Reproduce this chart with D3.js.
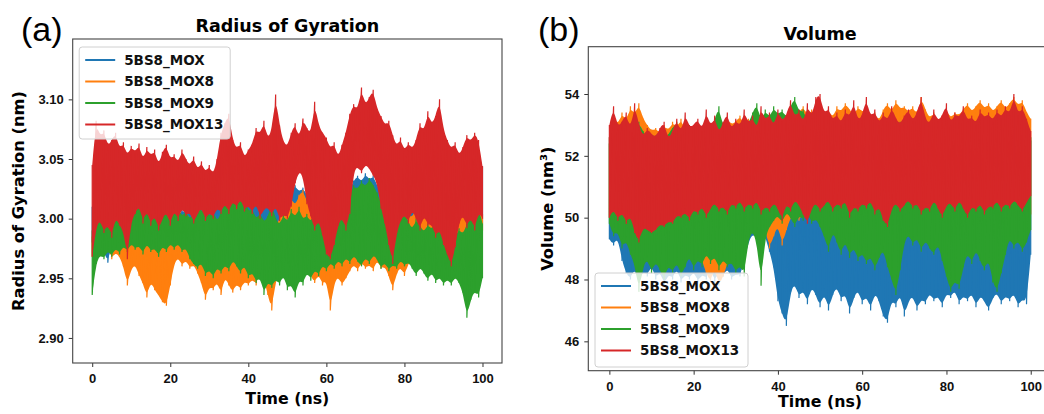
<!DOCTYPE html>
<html>
<head>
<meta charset="utf-8">
<script src="https://cdn.jsdelivr.net/npm/d3@7"></script>
<style>
  body { margin: 0; background: #fff; }
  svg { display: block; font-family: "DejaVu Sans", sans-serif; }
  .tick text { font-weight: bold; font-size: 13px; fill: #111; }
  .tick line, .domain { stroke: #333; }
</style>
</head>
<body>
<div id="chart"></div>
<script>
// series names (legend order = draw order)
const seriesNames = ['5BS8_MOX', '5BS8_MOX8', '5BS8_MOX9', '5BS8_MOX13'];
const seriesColors = ['#1f77b4', '#ff7f0e', '#2ca02c', '#d62728'];

// time axis, one sample per ns
const timeNs = d3.range(0, 101);
const xTicks = [0, 20, 40, 60, 80, 100];

// (a) radius of gyration, nm -- upper / lower envelope per ns
const rgMoxHi = [3.010,3.018,3.012,3.020,3.014,3.008,3.016,3.010,3.004,3.012,3.006,3.010,3.004,3.012,3.006,3.014,3.008,3.002,3.010,3.004,3.000,3.006,3.000,3.008,3.004,3.012,3.006,3.010,3.016,3.012,3.020,3.024,3.018,3.026,3.032,3.022,3.016,3.022,3.014,3.018,3.012,3.020,3.016,3.024,3.018,3.030,3.040,3.046,3.036,3.024,3.018,3.024,3.028,3.022,3.026,3.020,3.014,3.008,3.016,3.010,3.022,3.028,3.034,3.030,3.022,3.016,3.024,3.032,3.036,3.030,3.038,3.032,3.036,3.028,3.020,3.014,3.010,3.016,3.008,3.014,3.010,3.016,3.012,3.020,3.014,3.022,3.018,3.026,3.020,3.028,3.024,3.030,3.026,3.034,3.028,3.036,3.030,3.038,3.032,3.040,3.044];
const rgMoxLo = [2.980,2.978,2.984,2.972,2.963,2.978,2.984,2.980,2.976,2.982,2.978,2.984,2.980,2.986,2.982,2.988,2.984,2.980,2.976,2.970,2.966,2.964,2.972,2.978,2.984,2.980,2.976,2.982,2.978,2.974,2.972,2.976,2.972,2.968,2.974,2.966,2.970,2.976,2.972,2.968,2.974,2.970,2.976,2.980,2.978,2.984,2.990,2.996,2.992,2.986,2.980,2.984,2.980,2.986,2.982,2.976,2.970,2.974,2.968,2.976,2.972,2.978,2.974,2.980,2.976,2.982,2.986,2.992,2.996,2.990,2.994,2.992,2.988,2.984,2.980,2.976,2.972,2.976,2.970,2.974,2.968,2.972,2.976,2.970,2.974,2.978,2.972,2.976,2.970,2.974,2.978,2.982,2.976,2.980,2.984,2.988,2.984,2.990,2.986,2.992,2.996];
const rgMox8Hi = [2.985,3.000,2.998,2.994,3.004,2.996,3.006,2.998,2.994,3.000,2.996,2.992,3.002,2.996,3.008,2.998,2.992,2.986,2.994,2.988,2.996,3.000,2.994,3.002,3.006,3.000,2.994,2.984,2.978,2.986,2.980,2.976,2.984,2.978,2.972,2.986,2.980,2.984,2.976,2.982,2.974,2.980,2.986,2.990,2.984,2.992,2.986,2.994,3.000,3.006,3.012,3.018,3.010,3.020,3.024,3.014,3.008,2.996,2.990,2.986,2.982,2.988,2.982,2.990,2.986,2.994,2.988,2.984,2.990,2.996,2.992,2.998,2.990,2.994,2.986,2.992,2.998,2.996,2.990,3.002,2.996,3.004,3.000,3.010,3.016,3.008,3.020,3.014,3.022,3.018,3.030,3.038,3.046,3.052,3.042,3.034,3.024,3.018,3.012,3.026,3.004];
const rgMox8Lo = [2.968,2.966,2.974,2.970,2.976,2.966,2.972,2.968,2.960,2.944,2.958,2.962,2.952,2.946,2.934,2.948,2.940,2.936,2.930,2.927,2.944,2.962,2.968,2.960,2.966,2.958,2.962,2.954,2.946,2.932,2.944,2.940,2.948,2.936,2.952,2.944,2.938,2.946,2.940,2.948,2.944,2.950,2.944,2.956,2.950,2.936,2.923,2.948,2.954,2.960,2.966,2.962,2.970,2.966,2.974,2.960,2.952,2.946,2.954,2.944,2.950,2.923,2.946,2.952,2.944,2.950,2.956,2.962,2.956,2.964,2.958,2.962,2.956,2.966,2.958,2.960,2.952,2.940,2.954,2.960,2.952,2.962,2.968,2.962,2.970,2.966,2.972,2.968,2.974,2.970,2.976,2.972,2.978,2.974,2.980,2.976,2.982,2.976,2.984,2.980,2.990];
const rgMox9Hi = [2.990,3.000,3.008,3.020,3.014,3.030,3.022,3.026,3.018,3.034,3.058,3.040,3.024,3.030,3.018,3.026,3.012,3.020,3.008,3.016,3.010,3.004,3.012,3.000,3.008,2.998,3.006,3.014,3.004,3.010,3.000,3.008,2.996,3.006,3.012,3.024,3.018,3.026,3.012,3.020,3.004,3.010,2.998,3.006,2.996,3.002,3.012,3.000,2.994,3.004,2.996,3.008,3.000,3.010,2.998,3.004,2.996,3.006,3.000,2.994,3.004,3.012,3.000,3.008,2.998,3.014,3.020,3.028,3.024,3.032,3.026,3.034,3.028,3.022,3.012,3.018,3.008,3.014,3.004,2.998,3.006,2.998,2.990,3.000,2.994,2.988,2.996,2.990,2.998,2.992,2.986,2.994,2.988,2.984,2.992,2.986,2.996,3.004,2.990,3.010,2.996];
const rgMox9Lo = [2.936,2.962,2.970,2.966,2.974,2.968,2.976,2.970,2.978,2.972,2.980,2.974,2.978,2.970,2.980,2.972,2.976,2.968,2.978,2.972,2.980,2.974,2.980,2.972,2.976,2.966,2.962,2.958,2.964,2.952,2.958,2.950,2.960,2.954,2.962,2.956,2.966,2.960,2.954,2.962,2.950,2.956,2.946,2.952,2.936,2.948,2.942,2.950,2.944,2.954,2.940,2.946,2.934,2.950,2.944,2.956,2.948,2.958,2.952,2.962,2.956,2.964,2.958,2.966,2.960,2.968,2.962,2.970,2.964,2.960,2.968,2.962,2.970,2.966,2.958,2.964,2.956,2.962,2.958,2.966,2.960,2.964,2.958,2.952,2.960,2.954,2.948,2.956,2.946,2.952,2.944,2.950,2.944,2.952,2.946,2.938,2.917,2.932,2.940,2.934,2.950];
const rgMox13Hi = [3.045,3.082,3.068,3.074,3.060,3.066,3.072,3.058,3.064,3.052,3.061,3.055,3.063,3.048,3.060,3.052,3.058,3.044,3.056,3.062,3.049,3.054,3.046,3.058,3.050,3.044,3.052,3.040,3.048,3.038,3.045,3.036,3.050,3.072,3.080,3.088,3.066,3.058,3.064,3.050,3.058,3.062,3.076,3.070,3.082,3.066,3.074,3.104,3.078,3.064,3.060,3.072,3.080,3.066,3.084,3.076,3.070,3.098,3.078,3.072,3.068,3.058,3.064,3.050,3.062,3.072,3.088,3.096,3.090,3.110,3.094,3.102,3.108,3.092,3.086,3.078,3.082,3.070,3.060,3.068,3.056,3.064,3.058,3.066,3.080,3.072,3.090,3.078,3.086,3.100,3.074,3.066,3.058,3.064,3.052,3.060,3.070,3.064,3.072,3.066,3.044];
const rgMox13Lo = [2.968,2.992,3.000,2.988,2.996,2.984,3.002,2.994,2.990,2.966,2.998,3.004,3.012,2.996,3.008,2.994,3.004,2.990,3.000,3.006,2.994,3.008,2.998,3.010,3.002,3.006,2.996,3.004,3.010,2.998,3.006,3.000,3.010,3.004,3.014,3.004,3.016,3.008,3.018,3.006,3.012,3.004,3.014,3.000,3.008,3.010,3.002,3.012,2.998,3.004,3.000,3.010,3.030,3.040,3.036,3.012,3.002,2.990,3.000,2.986,2.970,2.966,2.978,2.994,3.002,2.990,3.004,3.040,3.044,3.038,3.046,3.042,3.036,3.030,3.008,2.996,2.978,2.962,2.988,2.998,3.004,2.996,3.008,3.000,2.990,3.004,2.994,2.996,2.984,2.992,2.978,2.970,2.960,2.976,2.996,3.004,2.992,3.002,2.990,3.006,3.000];
const rgTicks = [2.90, 2.95, 3.00, 3.05, 3.10];

// (b) volume, nm^3 -- upper / lower envelope per ns
const volMoxHi = [52.6,52.4,52.7,52.5,52.8,52.3,52.6,52.9,52.4,52.7,52.5,52.3,52.6,52.8,52.4,52.7,52.5,52.9,52.3,52.6,52.4,52.8,52.5,52.7,52.3,52.6,52.9,52.4,52.7,52.5,52.8,52.4,52.6,52.3,52.7,52.5,52.8,52.4,52.6,52.9,52.5,52.7,52.3,52.6,52.8,52.4,52.7,52.5,52.9,52.6,52.4,52.7,52.5,52.8,52.3,52.6,52.4,52.7,52.9,52.5,52.6,52.4,52.8,52.5,52.7,52.3,52.6,52.8,52.4,52.7,52.5,52.9,52.6,52.4,52.7,52.5,52.8,52.3,52.6,52.4,52.7,52.5,52.8,52.6,52.4,52.7,52.9,52.5,52.6,52.3,52.7,52.5,52.8,52.4,52.6,52.7,52.5,52.8,52.4,52.6,52.5];
const volMoxLo = [49.3,49.1,49.4,48.6,48.2,48.0,48.4,47.9,48.3,48.1,48.5,48.0,48.3,47.8,48.2,48.0,48.4,47.9,48.2,48.0,48.3,47.9,48.2,48.0,48.4,47.9,48.3,48.1,48.4,48.0,48.2,48.1,48.6,49.2,49.5,49.3,49.6,49.4,48.9,48.4,47.3,46.9,46.5,47.6,47.9,47.4,47.7,47.2,47.8,47.5,47.1,47.6,47.0,47.5,47.8,47.3,47.6,46.9,47.4,47.7,47.2,47.5,47.0,47.6,47.3,46.8,46.6,47.4,47.1,47.6,46.8,47.3,47.5,47.0,47.4,47.2,47.6,47.3,47.5,47.1,47.6,47.4,47.7,47.2,47.5,47.3,47.6,47.1,47.5,47.3,47.0,47.4,47.6,47.2,47.5,47.3,47.6,47.1,47.4,47.2,48.8];
const volMox8Hi = [52.6,53.2,53.0,53.4,53.1,53.6,53.3,53.7,53.2,53.0,52.8,52.9,52.7,53.0,52.8,53.1,52.9,53.2,52.8,53.0,52.7,53.0,52.8,53.2,52.9,53.1,53.3,52.9,53.2,53.0,53.1,53.3,53.0,53.2,52.9,53.1,53.4,53.0,53.3,53.1,53.2,53.4,53.1,53.5,53.2,53.4,53.6,53.3,53.5,53.2,53.4,53.3,53.5,53.2,53.6,53.4,53.7,53.5,53.3,53.6,53.4,53.5,53.2,53.4,53.1,53.5,53.7,53.4,53.8,53.5,53.6,53.4,53.6,53.3,53.9,53.5,53.2,53.4,53.1,53.3,53.5,53.2,53.4,53.3,53.5,53.7,53.4,53.6,53.8,53.5,53.7,53.4,53.6,53.8,53.5,53.7,53.9,53.6,53.8,53.4,53.2];
const volMox8Lo = [50.0,49.8,50.1,49.9,50.2,50.0,49.8,50.1,49.9,50.2,50.0,50.2,50.0,50.3,50.1,50.2,49.9,50.1,49.8,50.0,49.6,49.2,48.6,48.2,47.9,48.4,47.8,48.1,48.5,49.0,49.6,50.0,50.2,49.9,50.1,49.8,50.0,49.6,49.0,49.4,49.8,49.1,49.6,50.0,50.2,49.9,50.1,50.3,50.0,50.2,49.9,50.1,50.3,50.0,50.2,49.9,50.2,50.0,50.3,50.1,50.2,50.0,50.3,50.1,50.2,49.9,50.1,50.3,50.0,50.2,50.0,50.3,50.1,50.2,49.9,50.1,50.3,50.0,50.2,50.1,50.3,50.0,50.2,50.1,50.3,50.0,50.2,49.9,50.1,50.3,50.0,50.2,50.1,50.3,50.0,50.2,50.1,50.3,50.0,50.2,50.1];
const volMox9Hi = [52.4,52.8,52.6,53.0,52.7,52.9,52.6,53.1,52.8,52.5,52.7,52.6,52.8,52.5,52.7,52.9,53.1,52.6,52.8,53.0,52.7,52.9,52.6,53.0,52.7,53.2,53.6,52.9,53.1,52.8,53.0,52.9,53.2,53.0,53.4,53.7,53.1,53.5,53.2,53.6,53.3,53.5,53.2,53.6,53.9,53.4,53.5,53.1,53.3,53.0,53.2,52.9,53.1,52.8,53.0,52.7,52.9,53.1,52.8,53.0,52.9,53.0,52.8,53.1,52.9,53.2,52.8,53.0,52.9,53.1,52.8,53.0,52.9,53.1,52.8,53.2,53.0,52.9,53.1,52.8,53.0,52.9,53.1,52.8,53.0,52.9,53.1,52.8,53.0,52.9,53.1,52.8,53.0,52.9,53.1,52.8,53.0,52.9,53.1,52.8,52.6];
const volMox9Lo = [49.8,49.4,49.6,49.0,49.3,48.8,48.5,47.6,48.4,48.7,48.2,48.6,48.3,48.0,48.5,48.2,48.6,48.1,48.4,48.8,48.3,48.7,48.4,48.9,48.5,48.8,48.3,48.7,48.4,48.6,48.2,48.5,48.1,49.3,49.6,49.2,47.8,49.4,49.7,49.9,50.1,49.8,50.2,50.0,49.7,50.1,49.9,50.2,49.8,50.0,49.7,49.4,48.9,49.6,49.2,48.8,49.3,48.7,49.1,48.6,48.9,48.5,48.8,48.3,48.7,49.0,48.4,48.0,47.5,48.3,49.2,49.5,49.1,49.4,48.9,49.3,49.0,48.8,49.2,48.6,48.1,47.6,48.0,47.7,48.4,48.9,48.5,49.0,48.6,48.3,48.7,47.9,47.6,48.2,48.8,49.4,49.0,49.3,48.9,49.2,49.6];
const volMox13Hi = [53.0,53.6,52.9,53.1,53.4,52.8,53.7,53.0,52.6,52.9,52.7,52.6,52.9,53.1,52.5,52.8,53.2,52.7,53.4,52.9,53.0,53.2,52.8,53.5,52.9,53.3,52.7,53.1,53.4,52.8,53.2,52.9,53.5,53.0,53.3,52.8,53.6,53.1,53.4,52.9,53.5,53.1,53.3,53.8,53.2,53.5,53.0,53.7,53.2,53.9,54.0,53.3,53.6,53.1,53.4,53.0,53.5,53.2,53.8,53.1,53.3,53.9,53.2,53.5,53.0,53.4,53.1,53.6,53.2,53.0,53.3,53.5,53.1,53.4,53.9,53.2,53.0,53.5,53.1,53.3,53.7,53.0,53.4,53.2,53.6,53.1,53.3,53.0,53.5,53.2,53.4,53.1,53.5,53.2,53.6,53.3,54.0,53.3,53.6,53.2,52.8];
const volMox13Lo = [50.0,50.3,49.9,50.2,49.8,50.1,49.5,49.2,49.7,49.6,49.5,49.6,49.8,49.7,49.9,49.8,50.1,50.0,50.2,49.9,50.3,50.1,50.4,50.0,50.3,50.5,50.2,50.4,50.1,50.5,50.3,50.6,50.2,50.5,50.3,50.6,50.1,50.4,50.2,50.5,50.3,49.9,50.5,50.2,50.6,50.4,50.1,49.8,50.3,50.5,50.2,50.4,50.6,50.2,50.5,50.3,50.6,50.0,50.4,50.2,50.5,50.3,50.6,50.1,50.4,49.9,49.7,50.3,50.5,50.2,50.4,50.6,50.3,50.5,50.1,50.4,50.2,50.6,50.3,50.0,50.4,50.5,50.2,50.6,50.3,50.0,50.4,50.2,50.5,50.1,50.4,50.3,50.6,50.2,50.5,50.3,50.6,50.4,50.2,50.5,50.7];
const volTicks = [46, 48, 50, 52, 54];

const panels = [
  {
    tag: '(a)', tagX: 21, title: 'Radius of Gyration', ylabel: 'Radius of Gyration (nm)',
    left: 72.7, top: 39, width: 429.3, height: 324,
    yDomain: [2.879, 3.1506], yTicks: rgTicks, yFormat: d3.format('.2f'),
    hi: [rgMoxHi, rgMox8Hi, rgMox9Hi, rgMox13Hi],
    lo: [rgMoxLo, rgMox8Lo, rgMox9Lo, rgMox13Lo],
    legend: { x: 6.5, y: 8, w: 151, h: 92 },
    ylabelX: -48.5, xlabelY: 41
  },
  {
    tag: '(b)', tagX: 538, title: 'Volume', ylabel: 'Volume (nm³)',
    left: 588.3, top: 46.7, width: 463.5, height: 324,
    yDomain: [45.05, 55.53], yTicks: volTicks, yFormat: d3.format('d'),
    hi: [volMoxHi, volMox8Hi, volMox9Hi, volMox13Hi],
    lo: [volMoxLo, volMox8Lo, volMox9Lo, volMox13Lo],
    legend: { x: 6.7, y: 226.3, w: 153, h: 94 },
    ylabelX: -35.3, xlabelY: 36.5
  }
];

const svg = d3.select('#chart')
  .append('svg')
    .attr('width', 1044)
    .attr('height', 414);

svg.append('rect').attr('width', 1044).attr('height', 414).attr('fill', '#fff');

panels.forEach((p, pi) => {
  const g = svg.append('g')
      .attr('transform', `translate(${p.left}, ${p.top})`);

  const xScale = d3.scaleLinear().domain([-5, 105]).range([0, p.width]);
  const yScale = d3.scaleLinear().domain(p.yDomain).range([p.height, 0]);

  g.append('clipPath')
      .attr('id', 'clip' + pi)
    .append('rect')
      .attr('width', p.width)
      .attr('height', p.height);

  // body of each trajectory (smoothed band) plus the per-ns min/max needles
  const band = d3.area()
      .curve(d3.curveBasis)
      .x((d, i) => xScale(timeNs[i]))
      .y0(d => yScale(d[1]))
      .y1(d => yScale(d[0]));

  const needle = d3.line()
      .x(d => xScale(d[0]))
      .y(d => yScale(d[1]));

  const lines = g.append('g').attr('clip-path', `url(#clip${pi})`);
  seriesNames.forEach((name, si) => {
    const env = timeNs.map((t, i) => [p.hi[si][i], p.lo[si][i]]);
    lines.append('path')
        .datum(env)
        .attr('fill', seriesColors[si])
        .attr('d', band);

    const pts = [];
    timeNs.forEach((t, i) => {
      pts.push([t, p.hi[si][i]]);
      pts.push([t, p.lo[si][i]]);
    });
    lines.append('path')
        .datum(pts)
        .attr('fill', 'none')
        .attr('stroke', seriesColors[si])
        .attr('stroke-width', 1.2)
        .attr('d', needle);
  });

  // axes
  g.append('g')
      .attr('transform', `translate(0, ${p.height})`)
      .call(d3.axisBottom(xScale).tickValues(xTicks).tickSize(4).tickPadding(7).tickSizeOuter(0))
      .call(a => a.select('.domain').remove());

  g.append('g')
      .call(d3.axisLeft(yScale).tickValues(p.yTicks).tickFormat(p.yFormat).tickSize(4).tickPadding(5).tickSizeOuter(0))
      .call(a => a.select('.domain').remove());

  g.append('rect')
      .attr('width', p.width)
      .attr('height', p.height)
      .attr('fill', 'none')
      .attr('stroke', '#444')
      .attr('stroke-width', 1.1);

  // titles and labels
  g.append('text')
      .attr('x', p.width / 2)
      .attr('y', -7)
      .attr('text-anchor', 'middle')
      .style('font-weight', 'bold')
      .style('font-size', '17.5px')
      .text(p.title);

  svg.append('text')
      .attr('x', p.tagX)
      .attr('y', 41)
      .style('font-family', '"Liberation Sans", Arial, sans-serif')
      .style('font-size', '34px')
      .text(p.tag);

  g.append('text')
      .attr('x', p.width / 2)
      .attr('y', p.height + p.xlabelY)
      .attr('text-anchor', 'middle')
      .style('font-weight', 'bold')
      .style('font-size', '15.8px')
      .text('Time (ns)');

  g.append('text')
      .attr('transform', `translate(${p.ylabelX}, ${p.height / 2}) rotate(-90)`)
      .attr('text-anchor', 'middle')
      .style('font-weight', 'bold')
      .style('font-size', '16.3px')
      .text(p.ylabel);

  // legend
  const lg = g.append('g')
      .attr('transform', `translate(${p.legend.x}, ${p.legend.y})`);

  lg.append('rect')
      .attr('width', p.legend.w)
      .attr('height', p.legend.h)
      .attr('rx', 3)
      .attr('fill', '#fff')
      .attr('fill-opacity', 0.8)
      .attr('stroke', '#d0d0d0');

  seriesNames.forEach((name, si) => {
    const yy = 13 + si * 21.5;
    lg.append('line')
        .attr('x1', 6).attr('x2', 36)
        .attr('y1', yy).attr('y2', yy)
        .attr('stroke', seriesColors[si])
        .attr('stroke-width', 2);
    lg.append('text')
        .attr('x', 45)
        .attr('y', yy)
        .attr('dy', '0.36em')
        .style('font-weight', 'bold')
        .style('font-size', '13.5px')
        .style('fill', '#111')
        .text(name);
  });
});
</script>
</body>
</html>
